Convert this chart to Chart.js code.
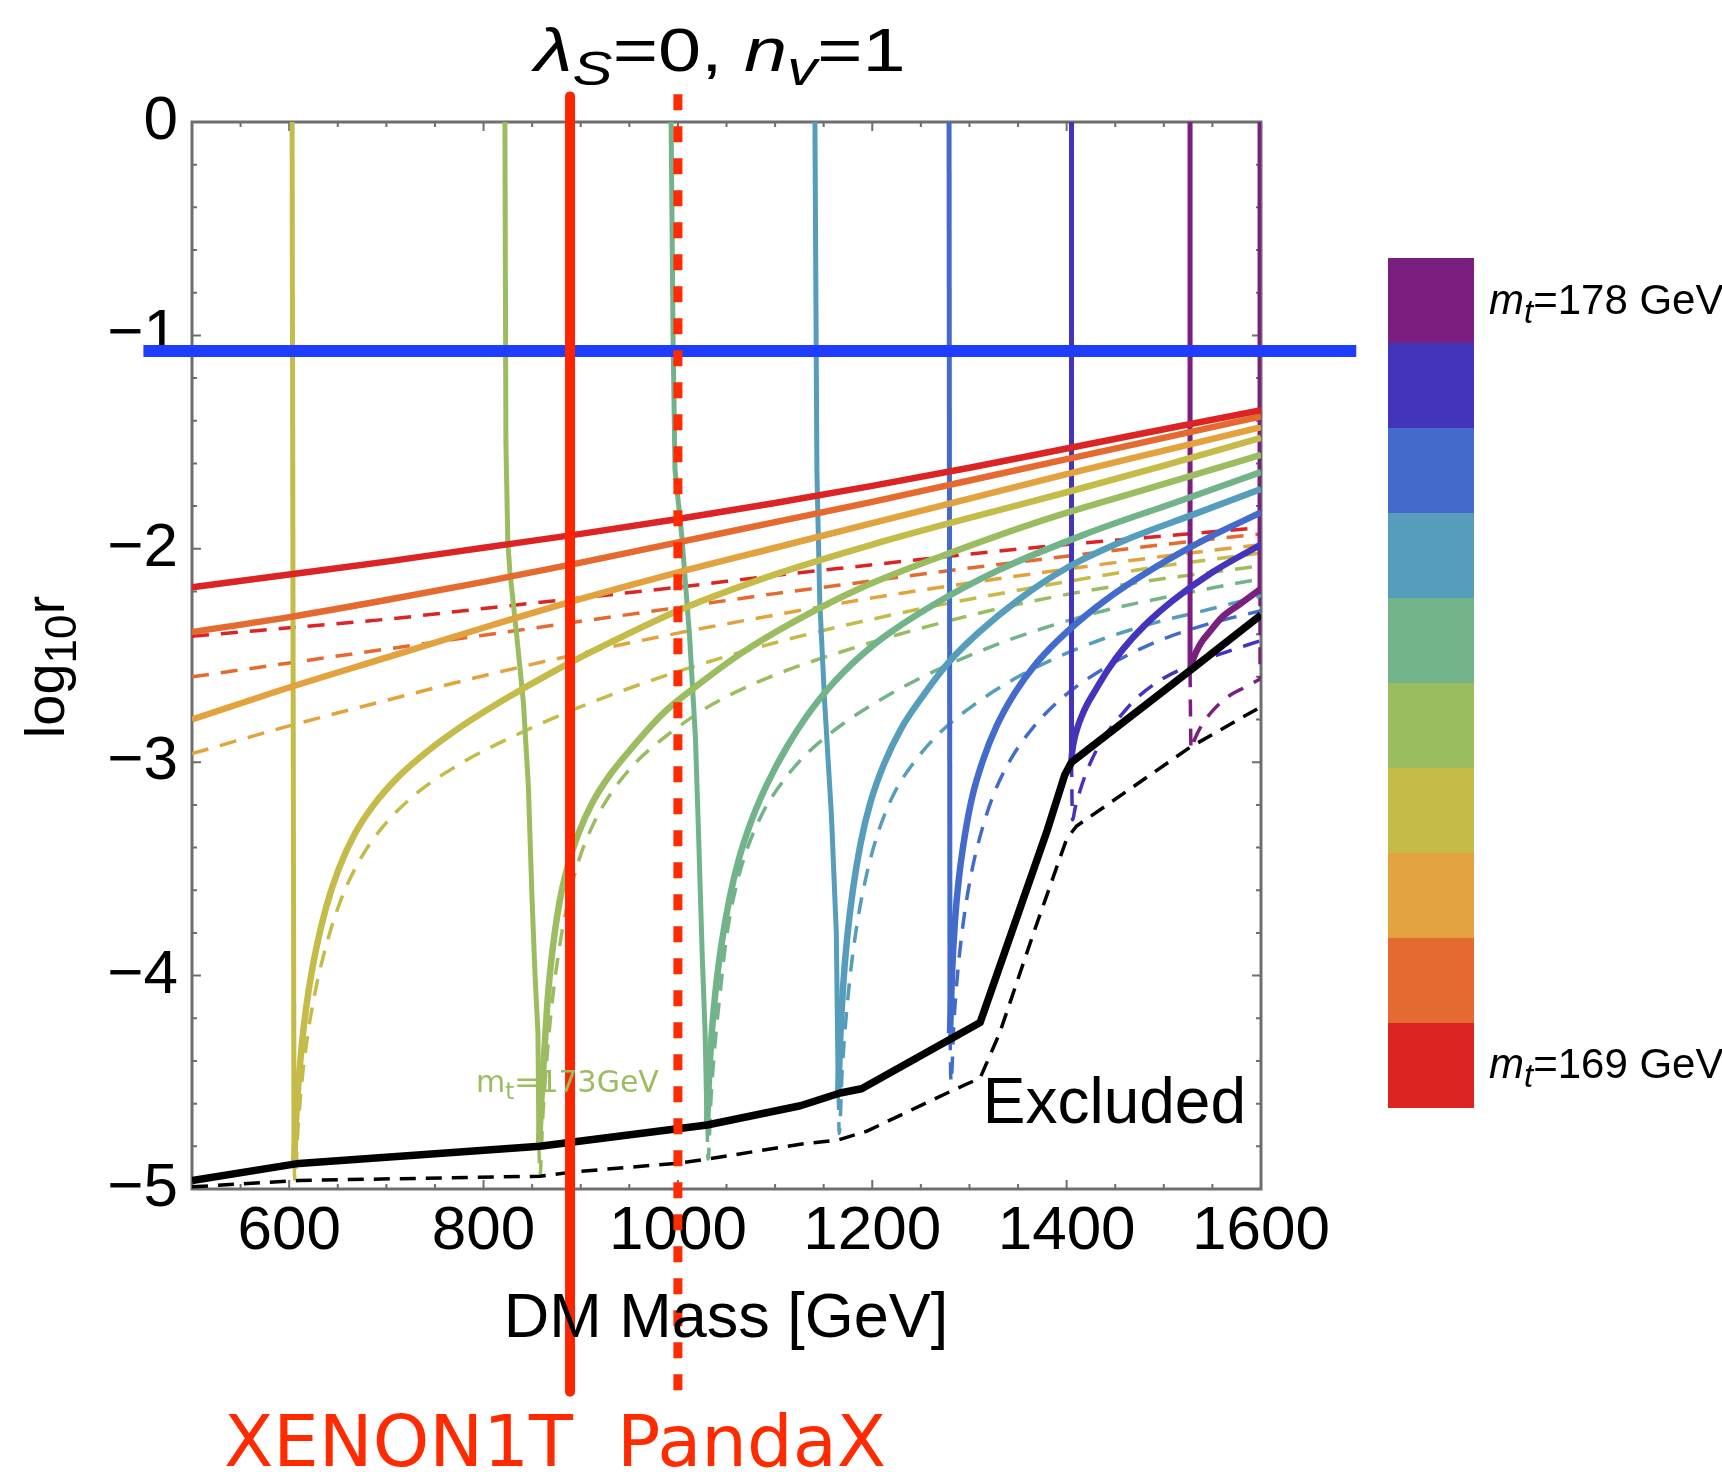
<!DOCTYPE html>
<html>
<head>
<meta charset="utf-8">
<script src="https://cdn.jsdelivr.net/npm/chart.js@4.4.0/dist/chart.umd.min.js"></script>
<style>
html, body { margin: 0; padding: 0; background: #fff; }
#wrap { width: 1722px; height: 1472px; }
</style>
</head>
<body>
<div id="wrap"><canvas id="chart" width="1722" height="1472"></canvas></div>
<script>
// tick labels
var xTicks = [600, 800, 1000, 1200, 1400, 1600];
var yTicks = [0, -1, -2, -3, -4, -5];

// top quark masses (colour bar) and their colours
var topMasses = [169, 170, 171, 172, 173, 174, 175, 176, 177, 178];
var massColors = ["#dc2424", "#e46a30", "#e2a23e", "#c4bb48", "#9bbd60",
                  "#72b38a", "#559dbb", "#426bcc", "#4433bb", "#7a1f80"];

// log10 r vs DM mass: solid and dashed curve for each m_t
var mt169 = [[500,-2.18],[600,-2.12],[700,-2.06],[800,-1.995],[900,-1.93],[1000,-1.86],[1100,-1.785],[1200,-1.705],[1300,-1.62],[1400,-1.53],[1500,-1.44],[1600,-1.35]];
var mt169dash = [[500,-2.41],[600,-2.37],[700,-2.33],[800,-2.28],[900,-2.23],[1000,-2.18],[1100,-2.125],[1200,-2.075],[1300,-2.025],[1400,-1.98],[1500,-1.94],[1600,-1.90]];
var mt170 = [[500,-2.39],[600,-2.32],[700,-2.24],[800,-2.155],[900,-2.065],[1000,-1.97],[1100,-1.875],[1200,-1.78],[1300,-1.68],[1400,-1.58],[1500,-1.48],[1600,-1.38]];
var mt170dash = [[500,-2.60],[600,-2.535],[700,-2.47],[800,-2.405],[900,-2.34],[1000,-2.275],[1100,-2.21],[1200,-2.15],[1300,-2.09],[1400,-2.035],[1500,-1.98],[1600,-1.93]];
var mt171 = [[500,-2.80],[600,-2.65],[700,-2.51],[800,-2.37],[900,-2.235],[1000,-2.11],[1100,-1.995],[1200,-1.88],[1300,-1.765],[1400,-1.65],[1500,-1.54],[1600,-1.43]];
var mt171dash = [[500,-2.96],[600,-2.83],[700,-2.71],[800,-2.595],[900,-2.49],[1000,-2.395],[1100,-2.31],[1200,-2.23],[1300,-2.16],[1400,-2.095],[1500,-2.035],[1600,-1.98]];
var mt172 = [[605,-4.88],[607,-4.68],[610,-4.48],[614,-4.28],[620,-4.07],[628,-3.87],[638,-3.68],[651,-3.50],[667,-3.34],[687,-3.20],[712,-3.07],[742,-2.95],[778,-2.83],[820,-2.71],[870,-2.58],[930,-2.44],[1000,-2.29],[1100,-2.12],[1200,-1.98],[1300,-1.855],[1400,-1.735],[1500,-1.61],[1600,-1.48]];
var mt172dash = [[605,-4.88],[606,-4.96],[609,-4.72],[613,-4.50],[619,-4.28],[627,-4.07],[638,-3.86],[652,-3.66],[670,-3.48],[695,-3.31],[730,-3.15],[775,-3.01],[830,-2.88],[900,-2.74],[990,-2.59],[1100,-2.44],[1230,-2.30],[1380,-2.17],[1500,-2.08],[1600,-2.02]];
var mt173 = [[857,-4.80],[859,-4.62],[862,-4.40],[866,-4.11],[871,-3.88],[878,-3.66],[887,-3.48],[898,-3.33],[912,-3.19],[930,-3.06],[955,-2.92],[985,-2.77],[1020,-2.64],[1065,-2.49],[1120,-2.34],[1190,-2.18],[1280,-2.02],[1380,-1.86],[1490,-1.71],[1600,-1.56]];
var mt173dash = [[857,-4.80],[858,-4.94],[861,-4.66],[865,-4.40],[870,-4.15],[877,-3.90],[886,-3.67],[898,-3.46],[913,-3.29],[932,-3.14],[957,-3.00],[990,-2.87],[1035,-2.73],[1095,-2.60],[1170,-2.48],[1260,-2.36],[1360,-2.25],[1470,-2.16],[1600,-2.08]];
var mt174 = [[1030,-4.70],[1032,-4.48],[1035,-4.26],[1039,-4.06],[1045,-3.85],[1053,-3.64],[1063,-3.45],[1076,-3.27],[1092,-3.10],[1112,-2.93],[1138,-2.75],[1170,-2.58],[1210,-2.42],[1260,-2.27],[1330,-2.10],[1420,-1.93],[1520,-1.77],[1600,-1.64]];
var mt174dash = [[1030,-4.70],[1031,-4.86],[1034,-4.58],[1038,-4.33],[1043,-4.10],[1050,-3.82],[1059,-3.60],[1071,-3.41],[1087,-3.24],[1108,-3.09],[1135,-2.95],[1170,-2.82],[1215,-2.69],[1275,-2.55],[1345,-2.42],[1430,-2.30],[1520,-2.21],[1600,-2.14]];
var mt175 = [[1165,-4.55],[1167,-4.30],[1170,-4.05],[1174,-3.83],[1180,-3.60],[1188,-3.38],[1198,-3.19],[1212,-3.01],[1230,-2.84],[1252,-2.69],[1279,-2.53],[1310,-2.39],[1350,-2.24],[1400,-2.09],[1460,-1.96],[1530,-1.84],[1600,-1.72]];
var mt175dash = [[1165,-4.55],[1166,-4.74],[1169,-4.45],[1173,-4.20],[1178,-3.97],[1185,-3.74],[1194,-3.53],[1206,-3.33],[1222,-3.15],[1243,-3.00],[1270,-2.86],[1305,-2.73],[1350,-2.60],[1410,-2.47],[1480,-2.36],[1550,-2.28],[1600,-2.22]];
var mt176 = [[1280,-4.27],[1282,-4.00],[1285,-3.75],[1289,-3.55],[1295,-3.35],[1303,-3.16],[1314,-2.99],[1328,-2.83],[1346,-2.68],[1370,-2.53],[1400,-2.39],[1440,-2.24],[1490,-2.09],[1545,-1.95],[1600,-1.83]];
var mt176dash = [[1280,-4.27],[1281,-4.50],[1284,-4.22],[1288,-3.98],[1294,-3.74],[1302,-3.52],[1312,-3.33],[1325,-3.15],[1342,-2.99],[1365,-2.84],[1395,-2.70],[1435,-2.57],[1485,-2.45],[1540,-2.36],[1600,-2.29]];
var mt177 = [[1405,-2.99],[1406,-2.94],[1408,-2.89],[1411,-2.84],[1415,-2.79],[1421,-2.73],[1430,-2.66],[1442,-2.57],[1458,-2.47],[1480,-2.36],[1510,-2.24],[1550,-2.11],[1600,-1.98]];
var mt177dash = [[1405,-2.99],[1406,-3.27],[1409,-3.21],[1414,-3.13],[1421,-3.04],[1430,-2.95],[1442,-2.86],[1456,-2.78],[1472,-2.70],[1495,-2.62],[1525,-2.55],[1560,-2.49],[1600,-2.43]];
var mt178 = [[1527,-2.57],[1530,-2.52],[1537,-2.45],[1547,-2.39],[1560,-2.32],[1578,-2.26],[1599,-2.19]];
var mt178dash = [[1527,-2.57],[1528,-2.94],[1532,-2.89],[1540,-2.82],[1552,-2.75],[1567,-2.69],[1583,-2.65],[1599,-2.61]];

// vertical spikes above each dip (colour index, points), and the dashed edge piece
var spikes = [
  [3, [[603,0],[605,-4.88]]],
  [4, [[822,0],[823,-1.5],[825,-1.97],[827,-2.10],[834,-2.40],[841,-2.72],[846,-3.10],[850,-3.65],[853,-4.00],[856,-4.27],[857,-4.80]]],
  [5, [[993,0],[995,-1.0],[997,-1.63],[1004,-1.94],[1012,-2.41],[1018,-2.88],[1021,-3.30],[1025,-3.90],[1028,-4.27],[1030,-4.70]]],
  [6, [[1141,0],[1143,-1.63],[1146,-2.25],[1151,-2.72],[1158,-3.25],[1163,-3.80],[1165,-4.55]]],
  [7, [[1279,0],[1280,-4.27]]],
  [8, [[1405,0],[1405,-2.99]]],
  [9, [[1527,0],[1527,-2.57]]],
  [9, [[1599,0],[1599,-2.19]]]
];
var edgeDash = [[1599,-2.19],[1599,-2.61]];

// excluded boundary
var boundSolid = [[500,-4.96],[610,-4.88],[858,-4.80],[892,-4.78],[1030,-4.70],[1126,-4.61],[1167,-4.55],[1189,-4.53],[1311,-4.22],[1380,-3.32],[1398,-3.06],[1405,-3.00],[1527,-2.57],[1600,-2.31]];
var boundDash = [[500,-4.99],[610,-4.96],[858,-4.94],[892,-4.92],[998,-4.88],[1030,-4.86],[1126,-4.79],[1165,-4.77],[1194,-4.73],[1277,-4.55],[1311,-4.48],[1331,-4.27],[1366,-3.80],[1400,-3.36],[1410,-3.30],[1527,-2.93],[1600,-2.74]];

// hand drawn limits
var xenonLine = [[889,0.12],[889,-5.95]];
var pandaxLine = [[1000,0.13],[1000,-5.95]];
var blueLine = [[450,-1.073],[1698,-1.073]];

var solidSets = [mt169, mt170, mt171, mt172, mt173, mt174, mt175, mt176, mt177, mt178];
var dashSets = [mt169dash, mt170dash, mt171dash, mt172dash, mt173dash, mt174dash, mt175dash, mt176dash, mt177dash, mt178dash];

function pts(arr) {
  return arr.map(function(p) { return {x: p[0], y: p[1]}; });
}

function lineSet(arr, color, width, dash, order, smooth) {
  var ds = {
    data: pts(arr),
    borderColor: color,
    backgroundColor: color,
    borderWidth: width,
    borderDash: dash || [],
    showLine: true,
    pointRadius: 0,
    tension: 0,
    fill: false,
    order: order,
    borderJoinStyle: "round"
  };
  if (smooth) ds.cubicInterpolationMode = "monotone";
  return ds;
}

var datasets = [];
var scribble = lineSet(blueLine, "#1f3dff", 12, [], 1);
scribble.clip = false;
datasets.push(scribble);
var xenon = lineSet(xenonLine, "#ff2400", 10, [], 0);
xenon.clip = false;
datasets.push(xenon);
var pandax = lineSet(pandaxLine, "#ff2a00", 9, [16, 16], 0);
pandax.clip = false;
datasets.push(pandax);
datasets.push(lineSet(boundSolid, "#000", 7.5, [], 2));
datasets.push(lineSet(boundDash, "#000", 3.5, [16, 10], 2));
for (var i = 0; i < topMasses.length; i++) {
  datasets.push(lineSet(solidSets[i], massColors[i], 6.5, [], 3, true));
}
spikes.forEach(function(s) {
  datasets.push(lineSet(s[1], massColors[s[0]], 5, [], 3));
});
for (var j = 0; j < topMasses.length; j++) {
  datasets.push(lineSet(dashSets[j], massColors[j], 3.5, [17, 12], 4, true));
}
datasets.push(lineSet(edgeDash, massColors[9], 3.5, [17, 12], 4));

function runFont(r, size, family) {
  var s = r.sub ? Math.round(size * 0.78) : size;
  return (r.italic ? "italic " : "") + s + "px " + family;
}

function richText(ctx, runs, x, y, size, align, family) {
  var w = 0;
  runs.forEach(function(r) {
    ctx.font = runFont(r, size, family);
    w += ctx.measureText(r.t).width;
  });
  var cx = x;
  if (align === "center") cx = x - w / 2;
  if (align === "right") cx = x - w;
  ctx.textAlign = "left";
  ctx.textBaseline = "alphabetic";
  runs.forEach(function(r) {
    ctx.font = runFont(r, size, family);
    ctx.fillText(r.t, cx, y + (r.sub ? size * 0.22 : 0));
    cx += ctx.measureText(r.t).width;
  });
}

var framePlugin = {
  id: "frame",
  beforeDraw: function(chart) {
    var ctx = chart.ctx;
    ctx.save();
    ctx.fillStyle = "#fff";
    ctx.fillRect(0, 0, chart.width, chart.height);
    ctx.restore();
  },
  beforeDatasetsDraw: function(chart) {
    var ctx = chart.ctx, a = chart.chartArea;
    var xs = chart.scales.x, ys = chart.scales.y;
    ctx.save();
    ctx.strokeStyle = "#6e6e6e";
    ctx.lineWidth = 3;
    ctx.strokeRect(a.left, a.top, a.right - a.left, a.bottom - a.top);
    ctx.lineWidth = 2;
    ctx.beginPath();
    for (var v = 550; v < 1600; v += 50) {
      var px = xs.getPixelForValue(v);
      var len = (v % 200 === 0) ? 9 : 5;
      ctx.moveTo(px, a.bottom); ctx.lineTo(px, a.bottom - len);
      ctx.moveTo(px, a.top); ctx.lineTo(px, a.top + len);
    }
    for (var k = 1; k < 25; k++) {
      var py = ys.getPixelForValue(-k * 0.2);
      var ylen = (k % 5 === 0) ? 9 : 5;
      ctx.moveTo(a.left, py); ctx.lineTo(a.left + ylen, py);
      ctx.moveTo(a.right, py); ctx.lineTo(a.right - ylen, py);
    }
    ctx.stroke();
    ctx.restore();
  },
  afterDraw: function(chart) {
    var ctx = chart.ctx;
    var sans = "'Liberation Sans', Arial, sans-serif";
    ctx.save();
    ctx.fillStyle = "#000";

    // title
    ctx.save();
    ctx.translate(720, 0);
    ctx.scale(1.25, 1);
    richText(ctx, [
      {t: "\u03bb", italic: true}, {t: "S", italic: true, sub: true},
      {t: "=0, "}, {t: "n", italic: true}, {t: "v", italic: true, sub: true}, {t: "=1"}
    ], 0, 71, 62, "center", sans);
    ctx.restore();

    // axis titles
    ctx.font = "63px " + sans;
    ctx.textAlign = "center";
    ctx.textBaseline = "alphabetic";
    ctx.fillText("DM Mass [GeV]", 726, 1337);

    ctx.save();
    ctx.translate(64, 667);
    ctx.rotate(-Math.PI / 2);
    richText(ctx, [{t: "log"}, {t: "10", sub: true}, {t: "r"}], 0, 0, 56, "center", sans);
    ctx.restore();

    // colour bar
    for (var i = 0; i < massColors.length; i++) {
      ctx.fillStyle = massColors[i];
      ctx.fillRect(1388, 258 + (massColors.length - 1 - i) * 85, 86, 85);
    }
    ctx.fillStyle = "#000";
    richText(ctx, [{t: "m", italic: true}, {t: "t", italic: true, sub: true}, {t: "=" + topMasses[topMasses.length - 1] + " GeV"}],
      1489, 314, 42, "left", sans);
    richText(ctx, [{t: "m", italic: true}, {t: "t", italic: true, sub: true}, {t: "=" + topMasses[0] + " GeV"}],
      1489, 1078, 42, "left", sans);

    // annotations
    ctx.font = "64px " + sans;
    ctx.textAlign = "right";
    ctx.fillText("Excluded", 1246, 1123);

    ctx.fillStyle = "#9bbd60";
    richText(ctx, [{t: "m"}, {t: "t", sub: true}, {t: "=173GeV"}], 476, 1092, 30, "left", "'DejaVu Sans', sans-serif");

    ctx.fillStyle = "#ff2a00";
    ctx.font = "72px 'DejaVu Sans', sans-serif";
    ctx.textAlign = "left";
    ctx.fillText("XENON1T", 224, 1466);
    ctx.fillText("PandaX", 617, 1466);
    ctx.restore();
  }
};

new Chart(document.getElementById("chart"), {
  type: "scatter",
  data: { datasets: datasets },
  options: {
    responsive: false,
    devicePixelRatio: 1,
    animation: false,
    layout: { padding: { top: 122, right: 461, left: 0, bottom: 0 } },
    plugins: { legend: { display: false }, tooltip: { enabled: false }, title: { display: false } },
    scales: {
      x: {
        type: "linear", min: 500, max: 1600,
        afterBuildTicks: function(s) { s.ticks = xTicks.map(function(v) { return {value: v}; }); },
        afterFit: function(s) { s.height = 283; },
        grid: { display: false, drawTicks: false },
        border: { display: false },
        ticks: {
          font: { family: "'Liberation Sans', Arial, sans-serif", size: 62 }, color: "#000", padding: 6, maxRotation: 0, autoSkip: false,
          callback: function(v) { return String(v); }
        }
      },
      y: {
        type: "linear", min: -5, max: 0,
        afterBuildTicks: function(s) { s.ticks = yTicks.map(function(v) { return {value: v}; }); },
        afterFit: function(s) { s.width = 192; },
        grid: { display: false, drawTicks: false },
        border: { display: false },
        ticks: {
          font: { family: "'Liberation Sans', Arial, sans-serif", size: 62 }, color: "#000", padding: 14, autoSkip: false,
          callback: function(v) { return v === 0 ? "0" : "\u2212" + Math.abs(v); }
        }
      }
    }
  },
  plugins: [framePlugin]
});
</script>
</body>
</html>
